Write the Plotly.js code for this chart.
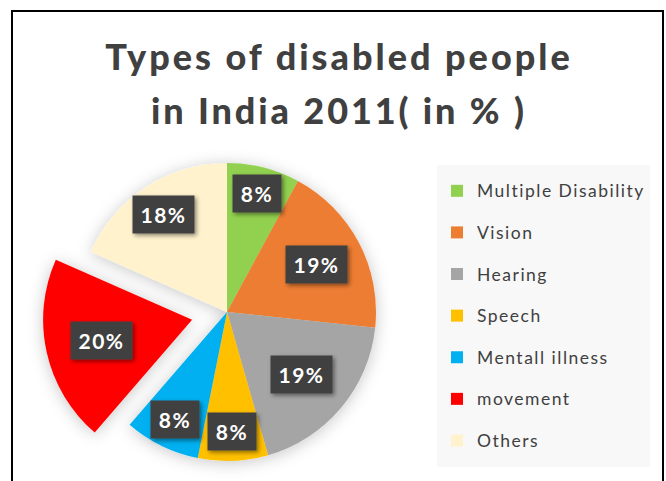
<!DOCTYPE html>
<html>
<head>
<meta charset="utf-8">
<script src="https://cdn.plot.ly/plotly-3.0.1.min.js"></script>
<style>
  html, body { margin: 0; padding: 0; overflow: hidden; background: #fff; }
  #chart { width: 666px; height: 520px; }
  .pielayer .trace { filter: url(#pieShadow); }
  .annotation rect.bg { filter: url(#boxShadow); }
</style>
</head>
<body>
<svg width="0" height="0" style="position:absolute">
  <defs>
    <filter id="pieShadow" x="-25%" y="-25%" width="150%" height="150%">
      <feGaussianBlur in="SourceAlpha" stdDeviation="8"/>
      <feOffset dx="0" dy="2" result="blur"/>
      <feFlood flood-color="#000" flood-opacity="0.22"/>
      <feComposite in2="blur" operator="in"/>
      <feMerge><feMergeNode/><feMergeNode in="SourceGraphic"/></feMerge>
    </filter>
    <filter id="boxShadow" x="-30%" y="-30%" width="160%" height="160%">
      <feDropShadow dx="2" dy="2" stdDeviation="2" flood-color="#000" flood-opacity="0.45"/>
    </filter>
  </defs>
</svg>
<div id="chart"></div>
<script>
// ---- data ----
const titleLine1 = 'Types of disabled people';
const titleLine2 = 'in India 2011( in % )';
const labels = ['Multiple Disability', 'Vision', 'Hearing', 'Speech', 'Mentall illness', 'movement', 'Others'];
const values = [7.9, 18.8, 18.9, 7.6, 8.2, 20.3, 18.4];
const pulledSlice = 'movement';

// ---- style ----
const colors = ['#92D050', '#ED7D31', '#A5A5A5', '#FFC000', '#00B0F0', '#FF0000', '#FFF2CC'];
const labelRadius = [0.82, 0.68, 0.65, 0.80, 0.80, 0.62, 0.78];
const W = 666, H = 520;
const CX = 227, CY = 312, R = 149, PULL = 0.24;
const half = R * (1 + PULL);
const textColor = '#404040';
const FONT = 'Lato, "Open Sans", sans-serif';

const pulls = labels.map(l => l === pulledSlice ? PULL : 0);
const total = values.reduce((a, b) => a + b, 0);

// label boxes placed from the data (slice mid-angles)
const annotations = [];
let cum = 0;
values.forEach((v, i) => {
  const a0 = cum / total * 2 * Math.PI;
  cum += v;
  const a1 = cum / total * 2 * Math.PI;
  const mid = (a0 + a1) / 2;
  const d = labelRadius[i] * R + pulls[i] * R;
  const px = CX + d * Math.sin(mid);
  const py = CY - d * Math.cos(mid);
  const txt = Math.round(v / total * 100) + '%';
  annotations.push({
    xref: 'paper', yref: 'paper', x: px / W, y: 1 - py / H,
    xanchor: 'center', yanchor: 'middle', showarrow: false,
    text: '<span style="letter-spacing:1.5px">' + txt + '</span>',
    width: 13 * txt.length + 10, height: 25,
    bgcolor: '#404040', borderpad: 6,
    font: { family: FONT, size: 21, color: '#ffffff', weight: 'bold' }
  });
});
annotations.push({
  xref: 'paper', yref: 'paper', x: 339 / W, y: 1 - 109.5 / H,
  xanchor: 'center', yanchor: 'middle', showarrow: false,
  text: '<span style="letter-spacing:2.9px">' + titleLine2 + '</span>',
  font: { family: FONT, size: 36, color: textColor, weight: 900 }
});

const legendFont = 29.7; // sets the entry spacing; visible size set in span
const trace = {
  type: 'pie',
  labels: labels.map(l => '<span style="font-size:17.5px;baseline-shift:5px;letter-spacing:1.5px">' + l + '</span>'),
  values: values,
  sort: false,
  direction: 'clockwise',
  rotation: 0,
  pull: pulls,
  marker: { colors: colors, line: { width: 0 } },
  textinfo: 'none',
  hoverinfo: 'label+percent',
  domain: {
    x: [(CX - half) / W, (CX + half) / W],
    y: [1 - (CY + half) / H, 1 - (CY - half) / H]
  }
};

const layout = {
  width: W, height: H,
  margin: { l: 0, r: 0, t: 0, b: 0, pad: 0 },
  paper_bgcolor: '#ffffff',
  title: {
    text: '<span style="letter-spacing:3px">' + titleLine1 + '</span>',
    x: 339 / W, xanchor: 'center',
    y: 1 - 57 / H, yanchor: 'middle', yref: 'container',
    font: { family: FONT, size: 36, color: textColor, weight: 900 }
  },
  showlegend: true,
  legend: {
    x: 437 / W, xanchor: 'left',
    y: 1 - 165 / H, yanchor: 'top',
    bgcolor: '#f8f8f8', borderwidth: 0,
    font: { family: FONT, size: legendFont, color: textColor },
    traceorder: 'normal'
  },
  annotations: annotations,
  shapes: [{
    type: 'rect', xref: 'paper', yref: 'paper',
    x0: 12 / W, x1: 663 / W, y0: -0.05, y1: 1 - 11 / H,
    line: { color: '#000000', width: 2 }, fillcolor: 'rgba(0,0,0,0)', layer: 'above'
  }]
};

Plotly.newPlot('chart', [trace], layout, { staticPlot: true });
</script>
</body>
</html>
